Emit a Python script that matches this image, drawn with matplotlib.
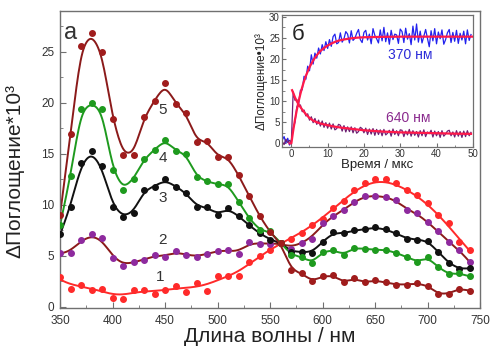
import numpy as np
import matplotlib
matplotlib.use("Agg")
import matplotlib.pyplot as plt
from matplotlib.ticker import MultipleLocator

plt.rcParams['font.family'] = ['Liberation Sans', 'DejaVu Sans']

# ---------------- data: main panel (а) ----------------
wavelength = list(range(350, 741, 10))
s1 = [2.9, 1.8, 2.2, 1.7, 1.8, 0.9, 0.8, 1.7, 1.7, 1.25, 1.7, 2.1, 1.5, 2.3, 1.6, 3.0, 3.0, 3.0, 4.4, 5.0,
      5.6, 6.3, 6.7, 7.2, 8.0, 8.6, 9.7, 10.4, 11.5, 12.1, 12.5, 12.5, 12.1, 11.5, 11.0, 10.2, 9.0, 8.2, 6.4, 5.6]
s2 = [5.3, 5.3, 6.6, 7.1, 6.8, 4.8, 4.0, 4.4, 4.6, 5.1, 4.9, 5.5, 5.1, 4.9, 5.2, 5.5, 5.6, 5.2, 6.4, 6.2,
      6.2, 6.3, 5.7, 6.3, 6.7, 8.2, 8.9, 9.5, 10.3, 10.9, 10.9, 10.8, 10.5, 9.5, 9.2, 8.3, 7.4, 6.4, 5.6, 4.4]
s3 = [7.1, 9.8, 14.1, 15.3, 13.8, 9.8, 8.8, 9.2, 11.5, 11.8, 12.5, 11.8, 11.2, 9.8, 9.8, 9.0, 9.7, 8.9, 8.0, 7.2,
      6.6, 6.3, 5.4, 5.4, 5.3, 6.4, 7.3, 7.2, 7.5, 7.6, 7.8, 7.6, 7.2, 6.7, 6.6, 6.5, 5.4, 4.3, 3.7, 3.8]
s4 = [8.0, 12.8, 19.4, 20.0, 19.4, 13.4, 11.5, 12.5, 14.5, 15.4, 16.4, 15.3, 15.0, 12.7, 12.3, 12.0, 12.0, 10.3, 8.7, 7.5,
      7.4, 6.3, 5.1, 4.9, 4.3, 5.4, 5.6, 5.1, 5.8, 5.7, 5.6, 5.6, 5.3, 4.9, 4.4, 4.9, 3.9, 3.2, 3.3, 3.0]
s5 = [9.0, 16.9, 25.6, 26.8, 25.0, 18.4, 14.9, 14.9, 18.6, 20.2, 21.9, 19.9, 19.0, 16.2, 16.3, 14.7, 14.7, 12.9, 10.9, 8.9,
      7.3, 6.3, 3.6, 3.3, 2.5, 3.0, 3.1, 2.4, 2.8, 2.4, 2.6, 2.4, 2.2, 2.2, 2.3, 2.1, 1.25, 1.3, 1.8, 1.6]
series_labels = ['1', '2', '3', '4', '5']
label_pos = [(445, 2.9), (448, 6.6), (448, 10.7), (448, 14.6), (448, 19.3)]

# ---------------- data: inset (б) ----------------
trace370 = [0.8, 1.6, 0.1, 1.2, -0.4, 0.6,
            3.6, 5.0, 8.6, 9.4, 12.6, 12.7, 15.9, 15.2, 18.3, 17.2,
            21.0, 18.8, 21.4, 20.2, 22.6, 21.2, 23.4, 22.0, 24.1, 22.5,
            24.6, 23.0, 25.3, 25.9, 23.6, 23.9, 26.2, 24.0, 24.8, 26.5,
            25.9, 23.8, 26.7, 24.4, 24.9, 26.1, 27.0, 24.6, 23.9, 26.3,
            26.8, 24.5, 25.9, 23.6, 27.2, 25.6, 24.8, 23.8, 26.9, 24.3,
            27.5, 24.1, 26.2, 23.5, 26.8, 24.6, 25.9, 25.7, 23.7, 27.1,
            26.5, 23.9, 27.3, 24.7, 26.0, 23.4, 27.8, 24.5, 28.3, 24.0,
            26.6, 23.8, 25.4, 27.0, 24.9, 22.9, 26.7, 24.3, 27.2, 23.6,
            26.4, 24.8, 26.9, 23.5, 24.6, 26.2, 27.0, 23.9, 26.3, 24.2,
            26.8, 23.7, 26.1, 24.5, 26.6, 23.6, 26.9, 24.4, 25.8]
trace640 = [0.4, -0.3, 1.0, 0.2, 0.7, 0.3,
            12.2, 10.2, 10.4, 8.8, 9.1, 7.5, 7.9, 6.5, 7.0, 5.5,
            6.3, 4.9, 5.9, 4.5, 5.5, 4.1, 5.3, 3.8, 4.9, 3.6,
            4.8, 3.4, 4.6, 3.2, 3.5, 4.5, 4.3, 2.9, 4.2, 2.7,
            3.9, 2.8, 3.9, 2.5, 3.7, 2.4, 2.8, 3.8, 3.5, 2.5,
            3.6, 2.1, 3.4, 2.2, 3.5, 1.9, 3.3, 2.1, 3.2, 1.8,
            3.3, 2.0, 2.4, 3.1, 1.7, 3.4, 2.1, 3.0, 1.8, 3.2,
            3.1, 1.6, 2.9, 2.0, 3.3, 1.7, 3.0, 1.9, 2.8, 1.5,
            3.0, 1.8, 3.2, 1.6, 2.7, 2.3, 3.1, 1.5, 2.9, 1.8,
            2.8, 1.4, 3.0, 1.7, 2.2, 2.9, 3.1, 1.8, 2.7, 1.5,
            3.0, 1.7, 2.8, 1.4, 2.9, 1.6, 3.0, 1.8, 2.6]
trace_t0 = -2.5
trace_dt = 0.5
fit370_t = [-0.5, 0, 0.5, 1, 1.5, 2, 2.5, 3, 3.5, 4, 5, 6, 7, 8, 9, 10, 11, 12, 13, 14, 16, 18, 20, 25, 30, 40, 50]
fit370_v = [0, 0, 2.98, 5.6, 7.9, 9.95, 11.75, 13.35, 14.75, 16.0, 18.05, 19.65, 20.9, 21.9, 22.6, 23.2, 23.65,
            24.05, 24.35, 24.55, 24.85, 25.05, 25.15, 25.25, 25.3, 25.3, 25.3]
fit640_t = [0.2, 0.5, 1, 1.5, 2, 3, 4, 5, 6, 7, 8, 10, 12, 14, 16, 18, 20, 25, 30, 35, 40, 45, 49.5]
fit640_v = [12.6, 12.0, 10.9, 10.0, 9.2, 8.0, 6.9, 6.0, 5.4, 5.0, 4.7, 4.3, 3.95, 3.7, 3.5, 3.3, 3.1, 2.8, 2.6,
            2.5, 2.4, 2.3, 2.25]


def smooth_fit(x, y, bw, n=400):
    """Local linear (Gaussian-weighted) regression fit through the data points."""
    x = np.asarray(x, float)
    y = np.asarray(y, float)
    xs = np.linspace(x.min(), x.max(), n)
    out = np.empty_like(xs)
    for i, x0 in enumerate(xs):
        w = np.exp(-0.5 * ((x - x0) / bw) ** 2)
        W = w.sum()
        xm = (w * x).sum() / W
        ym = (w * y).sum() / W
        sxx = (w * (x - xm) ** 2).sum()
        sxy = (w * (x - xm) * (y - ym)).sum()
        b = sxy / sxx if sxx > 0 else 0.0
        out[i] = ym + b * (x0 - xm)
    return xs, out


fig = plt.figure(figsize=(4.92, 3.52), dpi=100)
ax = fig.add_axes([0.122, 0.125, 0.854, 0.844])

spine_col = '#707070'
txt_col = '#333333'

styles = [
    (s1, '#ff2a2a', '#ff2a2a', 13),
    (s2, '#8e2a9e', '#8b1a1a', 8),
    (s3, '#111111', '#111111', 6.5),
    (s4, '#1e9a1e', '#1e9a1e', 6),
    (s5, '#a01c1c', '#8b1a1a', 6),
]
for vals, mcol, lcol, bw in styles:
    xs, ys = smooth_fit(wavelength, vals, bw)
    ax.plot(xs, ys, color=lcol, lw=1.4, zorder=2)
    ax.plot(wavelength, vals, 'o', color=mcol, ms=4.0, mec=mcol, zorder=3)

for lab, (lx, ly) in zip(series_labels, label_pos):
    ax.text(lx, ly, lab, fontsize=11, color=txt_col, ha='center', va='center')
ax.text(0.025, 0.925, 'а', transform=ax.transAxes, fontsize=17, color=txt_col, ha='center', va='center')

ax.set_xlim(350, 750)
ax.set_ylim(-0.1, 29)
ax.xaxis.set_major_locator(MultipleLocator(50))
ax.xaxis.set_minor_locator(MultipleLocator(25))
ax.yaxis.set_major_locator(MultipleLocator(5))
ax.yaxis.set_minor_locator(MultipleLocator(2.5))
ax.tick_params(which='both', direction='in', colors=spine_col, labelcolor=txt_col, labelsize=8.5)
ax.tick_params(axis='x', pad=5)
ax.tick_params(axis='y', pad=4)
ax.tick_params(which='major', length=4)
ax.tick_params(which='minor', length=2.5)
for sp in ax.spines.values():
    sp.set_color(spine_col)
    sp.set_linewidth(1.0)
ax.set_xlabel('Длина волны / нм', fontsize=15, color='#222222', labelpad=0)
ax.set_ylabel('ΔПоглощение*10³', fontsize=15, color='#222222', labelpad=4)
ax.yaxis.set_label_coords(-0.085, 0.46)

# ---------------- inset ----------------
ins = fig.add_axes([0.573, 0.582, 0.388, 0.375])
ins.set_facecolor('white')
t_trace = trace_t0 + trace_dt * np.arange(len(trace370))
ins.plot(t_trace, trace370, color='#2222ee', lw=0.9, zorder=2)
ins.plot(t_trace, trace640, color='#6e1f72', lw=0.9, zorder=2)
ins.plot(fit370_t, fit370_v, color='#ff1a4a', lw=1.6, zorder=3)
ins.plot(fit640_t, fit640_v, color='#ff1a4a', lw=1.6, zorder=3)
ins.set_xlim(-2.6, 50)
ins.set_ylim(-0.9, 30.4)
ins.xaxis.set_major_locator(MultipleLocator(10))
ins.xaxis.set_minor_locator(MultipleLocator(5))
ins.yaxis.set_major_locator(MultipleLocator(5))
ins.yaxis.set_minor_locator(MultipleLocator(2.5))
ins.tick_params(which='both', direction='in', colors=spine_col, labelcolor=txt_col, labelsize=7, pad=1.5)
ins.tick_params(which='major', length=3)
ins.tick_params(which='minor', length=1.8)
for sp in ins.spines.values():
    sp.set_color(spine_col)
    sp.set_linewidth(0.9)
ins.set_xlabel('Время / мкс', fontsize=9.5, color='#222222', labelpad=0)
ins.set_ylabel('ΔПоглощение•10³', fontsize=8.5, color='#222222', labelpad=1)
ins.text(0.085, 0.85, 'б', transform=ins.transAxes, fontsize=16, color='#222222', ha='center', va='center')
ins.text(0.67, 0.70, '370 нм', transform=ins.transAxes, fontsize=10, color='#2a2ad8', ha='center', va='center')
ins.text(0.66, 0.22, '640 нм', transform=ins.transAxes, fontsize=10, color='#8a2a8e', ha='center', va='center')

fig.savefig('out.png', dpi=100)
